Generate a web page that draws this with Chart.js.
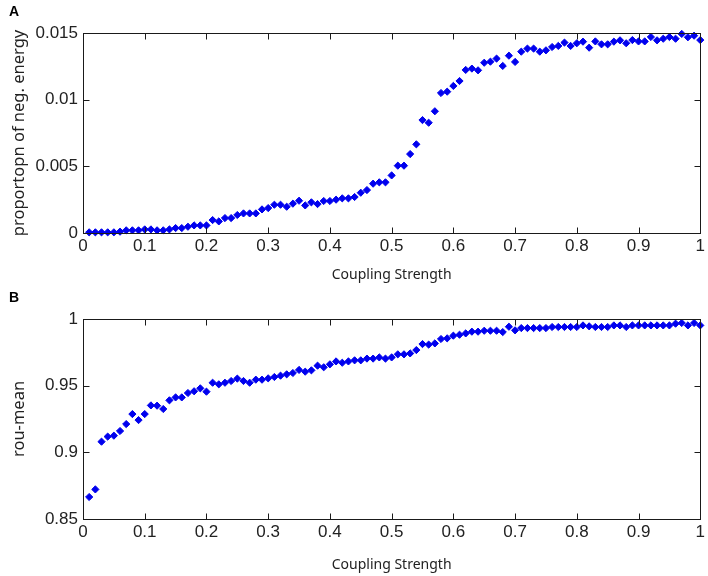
<!DOCTYPE html>
<html>
<head>
<meta charset="utf-8">
<script src="https://cdn.jsdelivr.net/npm/chart.js@4.4.1/dist/chart.umd.min.js"></script>
<style>
  html, body { margin: 0; padding: 0; background: #fff; }
  #wrap { position: relative; width: 708px; height: 576px; }
  canvas { position: absolute; left: 0; }
  #ca { top: 0; }
  #cb { top: 288px; }
  .lbl { position: absolute; font: bold 14px "Liberation Sans", Arial, sans-serif; color: #000; }
</style>
</head>
<body>
<div id="wrap">
  <canvas id="ca" width="708" height="288"></canvas>
  <canvas id="cb" width="708" height="288"></canvas>
  <div class="lbl" style="left:9px; top:3px;">A</div>
  <div class="lbl" style="left:9px; top:289px;">B</div>
</div>
<script>
// ---- data ----
const coupling = [0.01,0.02,0.03,0.04,0.05,0.06,0.07,0.08,0.09,0.10,
  0.11,0.12,0.13,0.14,0.15,0.16,0.17,0.18,0.19,0.20,
  0.21,0.22,0.23,0.24,0.25,0.26,0.27,0.28,0.29,0.30,
  0.31,0.32,0.33,0.34,0.35,0.36,0.37,0.38,0.39,0.40,
  0.41,0.42,0.43,0.44,0.45,0.46,0.47,0.48,0.49,0.50,
  0.51,0.52,0.53,0.54,0.55,0.56,0.57,0.58,0.59,0.60,
  0.61,0.62,0.63,0.64,0.65,0.66,0.67,0.68,0.69,0.70,
  0.71,0.72,0.73,0.74,0.75,0.76,0.77,0.78,0.79,0.80,
  0.81,0.82,0.83,0.84,0.85,0.86,0.87,0.88,0.89,0.90,
  0.91,0.92,0.93,0.94,0.95,0.96,0.97,0.98,0.99,1.00];

const negEnergy = [0.00005,0.00005,0.00005,0.00005,0.00005,0.00010,0.00020,0.00020,0.00020,0.00027,
  0.00027,0.00020,0.00020,0.00027,0.00037,0.00037,0.00047,0.00057,0.00057,0.00057,
  0.00097,0.00087,0.00112,0.00112,0.00135,0.00147,0.00147,0.00147,0.00177,0.00187,
  0.00212,0.00212,0.00197,0.00220,0.00242,0.00207,0.00230,0.00217,0.00240,0.00240,
  0.00250,0.00260,0.00260,0.00270,0.00302,0.00322,0.00370,0.00380,0.00380,0.00432,
  0.00505,0.00505,0.00592,0.00665,0.00847,0.00827,0.00913,0.01050,0.01060,0.01103,
  0.01140,0.01223,0.01233,0.01220,0.01277,0.01285,0.01308,0.01253,0.01330,0.01283,
  0.01360,0.01383,0.01383,0.01360,0.01370,0.01395,0.01403,0.01428,0.01403,0.01423,
  0.01435,0.01390,0.01437,0.01415,0.01415,0.01435,0.01445,0.01423,0.01447,0.01437,
  0.01437,0.01470,0.01445,0.01457,0.01470,0.01457,0.01493,0.01468,0.01480,0.01447];

const rouMean = [0.8665,0.8722,0.9080,0.9118,0.9125,0.9160,0.9212,0.9287,0.9242,0.9287,
  0.9352,0.9350,0.9325,0.9390,0.9412,0.9412,0.9445,0.9458,0.9480,0.9455,
  0.9522,0.9510,0.9522,0.9535,0.9553,0.9535,0.9522,0.9545,0.9545,0.9555,
  0.9565,0.9575,0.9585,0.9595,0.9618,0.9605,0.9615,0.9650,0.9638,0.9660,
  0.9682,0.9672,0.9682,0.9690,0.9690,0.9703,0.9703,0.9712,0.9703,0.9712,
  0.9735,0.9735,0.9742,0.9767,0.9812,0.9808,0.9817,0.9850,0.9855,0.9875,
  0.9882,0.9892,0.9905,0.9905,0.9912,0.9912,0.9912,0.9902,0.9942,0.9915,
  0.9932,0.9932,0.9932,0.9932,0.9932,0.9940,0.9940,0.9940,0.9940,0.9940,
  0.9952,0.9945,0.9940,0.9940,0.9940,0.9952,0.9952,0.9940,0.9952,0.9952,
  0.9952,0.9952,0.9952,0.9952,0.9952,0.9965,0.9970,0.9952,0.9970,0.9952];

const xTicks = [0,0.1,0.2,0.3,0.4,0.5,0.6,0.7,0.8,0.9,1];
const yTicksA = [0,0.005,0.01,0.015];
const yTicksB = [0.85,0.9,0.95,1];
const xTitle = 'Coupling Strength';
const yTitleA = 'proportopn of neg. energy';
const yTitleB = 'rou-mean';

// ---- drawing ----
const boxTicks = {
  id: 'boxTicks',
  afterDatasetsDraw(chart) {
    const { ctx, chartArea: { left, right, top, bottom }, scales: { x, y } } = chart;
    ctx.save();
    ctx.strokeStyle = '#1a1a1a';
    ctx.lineWidth = 1;
    const L = Math.round(left) + 0.5, R = Math.round(right) + 0.5;
    const T = Math.round(top) + 0.5, B = Math.round(bottom) + 0.5;
    ctx.strokeRect(L, T, R - L, B - T);
    ctx.beginPath();
    x.ticks.forEach(t => {
      const px = Math.round(x.getPixelForValue(t.value)) + 0.5;
      ctx.moveTo(px, B); ctx.lineTo(px, B - 6);
      ctx.moveTo(px, T); ctx.lineTo(px, T + 6);
    });
    y.ticks.forEach(t => {
      const py = Math.round(y.getPixelForValue(t.value)) + 0.5;
      ctx.moveTo(L, py); ctx.lineTo(L + 6, py);
      ctx.moveTo(R, py); ctx.lineTo(R - 6, py);
    });
    ctx.stroke();
    ctx.restore();
  }
};

const tickFont = { family: '"Liberation Sans", Arial, sans-serif', size: 17 };
const xTitleFont = { family: '"Noto Sans", "Open Sans", sans-serif', size: 14 };
const yTitleFont = { family: '"Noto Sans", "Open Sans", sans-serif', size: 16.5 };

function fmt(v) { return String(Math.round(v * 1000) / 1000); }

function makeChart(id, yVals, yTicks, yMin, yMax, yTitle, padTop, titleBottom) {
  const pts = coupling.map((c, i) => ({ x: c, y: yVals[i] }));
  return new Chart(document.getElementById(id), {
    type: 'scatter',
    data: { datasets: [{
      data: pts,
      pointStyle: 'rectRot',
      pointRadius: 3.6,
      pointBackgroundColor: '#0000ee',
      pointBorderColor: '#0000ee',
      pointBorderWidth: 1,
      clip: false
    }] },
    options: {
      responsive: false,
      animation: false,
      events: [],
      layout: { padding: { left: 0, right: 6, top: padTop, bottom: 0 } },
      plugins: { legend: { display: false }, tooltip: { enabled: false } },
      scales: {
        x: {
          type: 'linear', min: 0, max: 1,
          afterBuildTicks: s => { s.ticks = xTicks.map(v => ({ value: v })); },
          afterFit: s => { s.height = 288 - padTop - 200; },
          grid: { display: false, drawTicks: false },
          border: { display: false },
          ticks: { font: tickFont, color: '#222', padding: 3, maxRotation: 0, callback: v => fmt(v) },
          title: { display: true, text: xTitle, font: xTitleFont, color: '#222', padding: { top: 4, bottom: titleBottom } }
        },
        y: {
          type: 'linear', min: yMin, max: yMax,
          afterBuildTicks: s => { s.ticks = yTicks.map(v => ({ value: v })); },
          afterFit: s => { s.width = 83; },
          grid: { display: false, drawTicks: false },
          border: { display: false },
          ticks: { font: tickFont, color: '#222', padding: 5, callback: v => fmt(v) },
          title: { display: true, text: yTitle, font: yTitleFont, color: '#222', padding: { top: 9, bottom: 0 } }
        }
      }
    },
    plugins: [boxTicks]
  });
}

makeChart('ca', negEnergy, yTicksA, 0, 0.015, yTitleA, 33, 5);
makeChart('cb', rouMean, yTicksB, 0.85, 1, yTitleB, 31, 3);
</script>
</body>
</html>
